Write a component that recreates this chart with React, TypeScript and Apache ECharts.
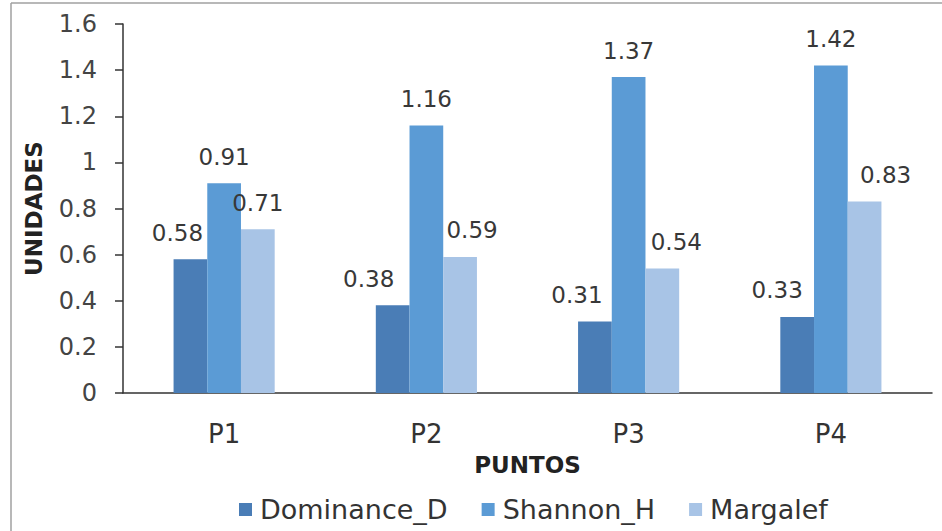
import React, { useEffect, useRef } from "react";
import * as echarts from "echarts";

const categories = ["P1", "P2", "P3", "P4"];
const dominance = [0.58, 0.38, 0.31, 0.33];
const shannon = [0.91, 1.16, 1.37, 1.42];
const margalef = [0.71, 0.59, 0.54, 0.83];
const seriesNames = ["Dominance_D", "Shannon_H", "Margalef"];
const colors = ["#4a7db6", "#5b9bd5", "#a8c4e6"];

// Horizontal nudges that keep value labels clear of the taller middle bar
const dominanceLabelShift = [-13, -24, -18, -20];
const margalefLabelShift = [0, 12, 14, 21];

const FONT = "'DejaVu Sans', sans-serif";

export default function App() {
  const ref = useRef<HTMLDivElement>(null);

  useEffect(() => {
    if (!ref.current) return;
    const chart = echarts.init(ref.current, undefined, { renderer: "svg" });

    const labelBase = {
      show: true,
      position: "top",
      distance: 15,
      color: "#383838",
      fontSize: 23,
      fontFamily: FONT,
      formatter: (p: any) => String(p.value),
    };

    const withShift = (values: number[], shifts: number[]) =>
      values.map((v, i) => ({ value: v, label: { offset: [shifts[i], 0] } }));

    chart.setOption({
      animation: false,
      backgroundColor: "#ffffff",
      textStyle: { fontFamily: FONT },
      color: colors,
      grid: { left: 123, right: 10, top: 24, bottom: 138, containLabel: false },
      legend: {
        bottom: 3,
        left: 234,
        itemWidth: 13,
        itemHeight: 13,
        itemGap: 34,
        icon: "rect",
        textStyle: { fontSize: 27, color: "#333", fontFamily: FONT, padding: [0, 0, 0, 3] },
        data: seriesNames,
      },
      xAxis: {
        type: "category",
        data: categories,
        name: "PUNTOS",
        nameLocation: "middle",
        nameGap: 60,
        nameTextStyle: { fontSize: 23, fontWeight: "bold", color: "#222", fontFamily: FONT },
        axisLine: { lineStyle: { color: "#333", width: 1.5 } },
        axisTick: { show: false },
        axisLabel: { fontSize: 26, color: "#333", margin: 28, fontFamily: FONT },
      },
      yAxis: {
        type: "value",
        min: 0,
        max: 1.6,
        interval: 0.2,
        name: "UNIDADES",
        nameLocation: "middle",
        nameGap: 78,
        nameTextStyle: { fontSize: 23, fontWeight: "bold", color: "#222", fontFamily: FONT },
        axisLine: { show: true, lineStyle: { color: "#333", width: 1.5 } },
        axisTick: { show: true, length: 8, lineStyle: { color: "#333", width: 1.5 } },
        splitLine: { show: false },
        axisLabel: {
          fontSize: 24,
          color: "#444",
          margin: 26,
          fontFamily: FONT,
          formatter: (v: number) => String(Math.round(v * 10) / 10),
        },
      },
      series: [
        {
          name: seriesNames[0],
          type: "bar",
          barGap: "0%",
          barCategoryGap: "50%",
          data: withShift(dominance, dominanceLabelShift),
          label: labelBase,
        },
        {
          name: seriesNames[1],
          type: "bar",
          barGap: "0%",
          barCategoryGap: "50%",
          data: shannon,
          label: labelBase,
        },
        {
          name: seriesNames[2],
          type: "bar",
          barGap: "0%",
          barCategoryGap: "50%",
          data: withShift(margalef, margalefLabelShift),
          label: labelBase,
        },
      ],
      graphic: [
        {
          type: "line",
          shape: { x1: 11, y1: 3, x2: 942, y2: 3 },
          style: { stroke: "#a0a0a0", lineWidth: 1.5 },
          silent: true,
        },
        {
          type: "line",
          shape: { x1: 11, y1: 3, x2: 11, y2: 531 },
          style: { stroke: "#a0a0a0", lineWidth: 1.5 },
          silent: true,
        },
      ],
    });

    return () => chart.dispose();
  }, []);

  return (
    <div
      ref={ref}
      style={{ position: "fixed", left: 0, top: 0, width: 942, height: 531 }}
    />
  );
}
